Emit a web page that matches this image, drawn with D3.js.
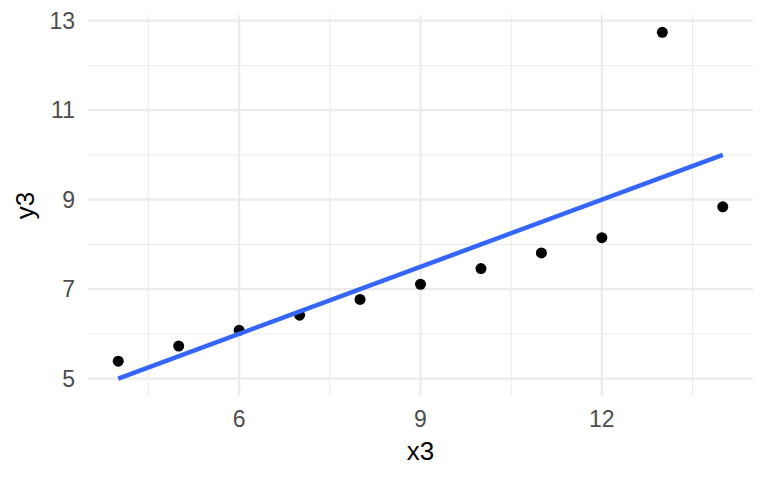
<!DOCTYPE html>
<html lang="en">
<head>
  <meta charset="UTF-8">
  <title>Anscombe x3 / y3</title>
  <script src="https://d3js.org/d3.v7.min.js"></script>
  <style>
    body { margin: 0; background: #fff; font-family: "Liberation Sans", Arial, sans-serif; }
    .tick-label { font-size: 23px; fill: #4D4D4D; }
    .axis-title { font-size: 26px; fill: #000; }
  </style>
</head>
<body>
  <div id="chart"></div>
  <script>
    // Anscombe's quartet, set 3
    const x3 = [10, 8, 13, 9, 11, 14, 6, 4, 12, 7, 5];
    const y3 = [7.46, 6.77, 12.74, 7.11, 7.81, 8.84, 6.08, 5.39, 8.15, 6.42, 5.73];

    // fitted line endpoints
    const fitX = [4, 14];
    const fitY = [5.00, 10.00];

    const xTicks = [6, 9, 12];
    const yTicks = [5, 7, 9, 11, 13];
    const xMinor = [4.5, 7.5, 10.5, 13.5];
    const yMinor = [6, 8, 10, 12];

    const width = 768, height = 480;
    const panel = {left: 88, right: 753, top: 15, bottom: 396};

    const svg = d3.select("#chart")
      .append("svg")
      .attr("width", width)
      .attr("height", height);

    // ggplot-style 5% expansion
    const xr = [4, 14], yr = [5, 12.74];
    const xe = (xr[1] - xr[0]) * 0.05, ye = (yr[1] - yr[0]) * 0.05;

    const x = d3.scaleLinear()
      .domain([xr[0] - xe, xr[1] + xe])
      .range([panel.left, panel.right]);

    const y = d3.scaleLinear()
      .domain([yr[0] - ye, yr[1] + ye])
      .range([panel.bottom, panel.top]);

    // minor grid
    svg.append("g").selectAll("line")
      .data(xMinor).join("line")
      .attr("x1", d => x(d)).attr("x2", d => x(d))
      .attr("y1", panel.top).attr("y2", panel.bottom)
      .attr("stroke", "#EBEBEB").attr("stroke-width", 1.1);
    svg.append("g").selectAll("line")
      .data(yMinor).join("line")
      .attr("y1", d => y(d)).attr("y2", d => y(d))
      .attr("x1", panel.left).attr("x2", panel.right)
      .attr("stroke", "#EBEBEB").attr("stroke-width", 1.1);

    // major grid
    svg.append("g").selectAll("line")
      .data(xTicks).join("line")
      .attr("x1", d => x(d)).attr("x2", d => x(d))
      .attr("y1", panel.top).attr("y2", panel.bottom)
      .attr("stroke", "#EBEBEB").attr("stroke-width", 2.2);
    svg.append("g").selectAll("line")
      .data(yTicks).join("line")
      .attr("y1", d => y(d)).attr("y2", d => y(d))
      .attr("x1", panel.left).attr("x2", panel.right)
      .attr("stroke", "#EBEBEB").attr("stroke-width", 2.2);

    // points
    svg.append("g").selectAll("circle")
      .data(x3.map((d, i) => [d, y3[i]])).join("circle")
      .attr("cx", d => x(d[0]))
      .attr("cy", d => y(d[1]))
      .attr("r", 5.5)
      .attr("fill", "#000");

    // regression line
    svg.append("path")
      .datum(fitX.map((d, i) => [d, fitY[i]]))
      .attr("fill", "none")
      .attr("stroke", "#3366FF")
      .attr("stroke-width", 4.5)
      .attr("d", d3.line().x(d => x(d[0])).y(d => y(d[1])));

    // tick labels
    svg.append("g").selectAll("text")
      .data(yTicks).join("text")
      .attr("class", "tick-label")
      .attr("x", 75)
      .attr("y", d => y(d))
      .attr("dy", "0.36em")
      .attr("text-anchor", "end")
      .text(d => d);

    svg.append("g").selectAll("text")
      .data(xTicks).join("text")
      .attr("class", "tick-label")
      .attr("x", d => x(d))
      .attr("y", 427)
      .attr("text-anchor", "middle")
      .text(d => d);

    // axis titles
    svg.append("text")
      .attr("class", "axis-title")
      .attr("x", (panel.left + panel.right) / 2)
      .attr("y", 460)
      .attr("text-anchor", "middle")
      .text("x3");

    svg.append("text")
      .attr("class", "axis-title")
      .attr("transform", `translate(34, ${(panel.top + panel.bottom) / 2}) rotate(-90)`)
      .attr("text-anchor", "middle")
      .text("y3");
  </script>
</body>
</html>
